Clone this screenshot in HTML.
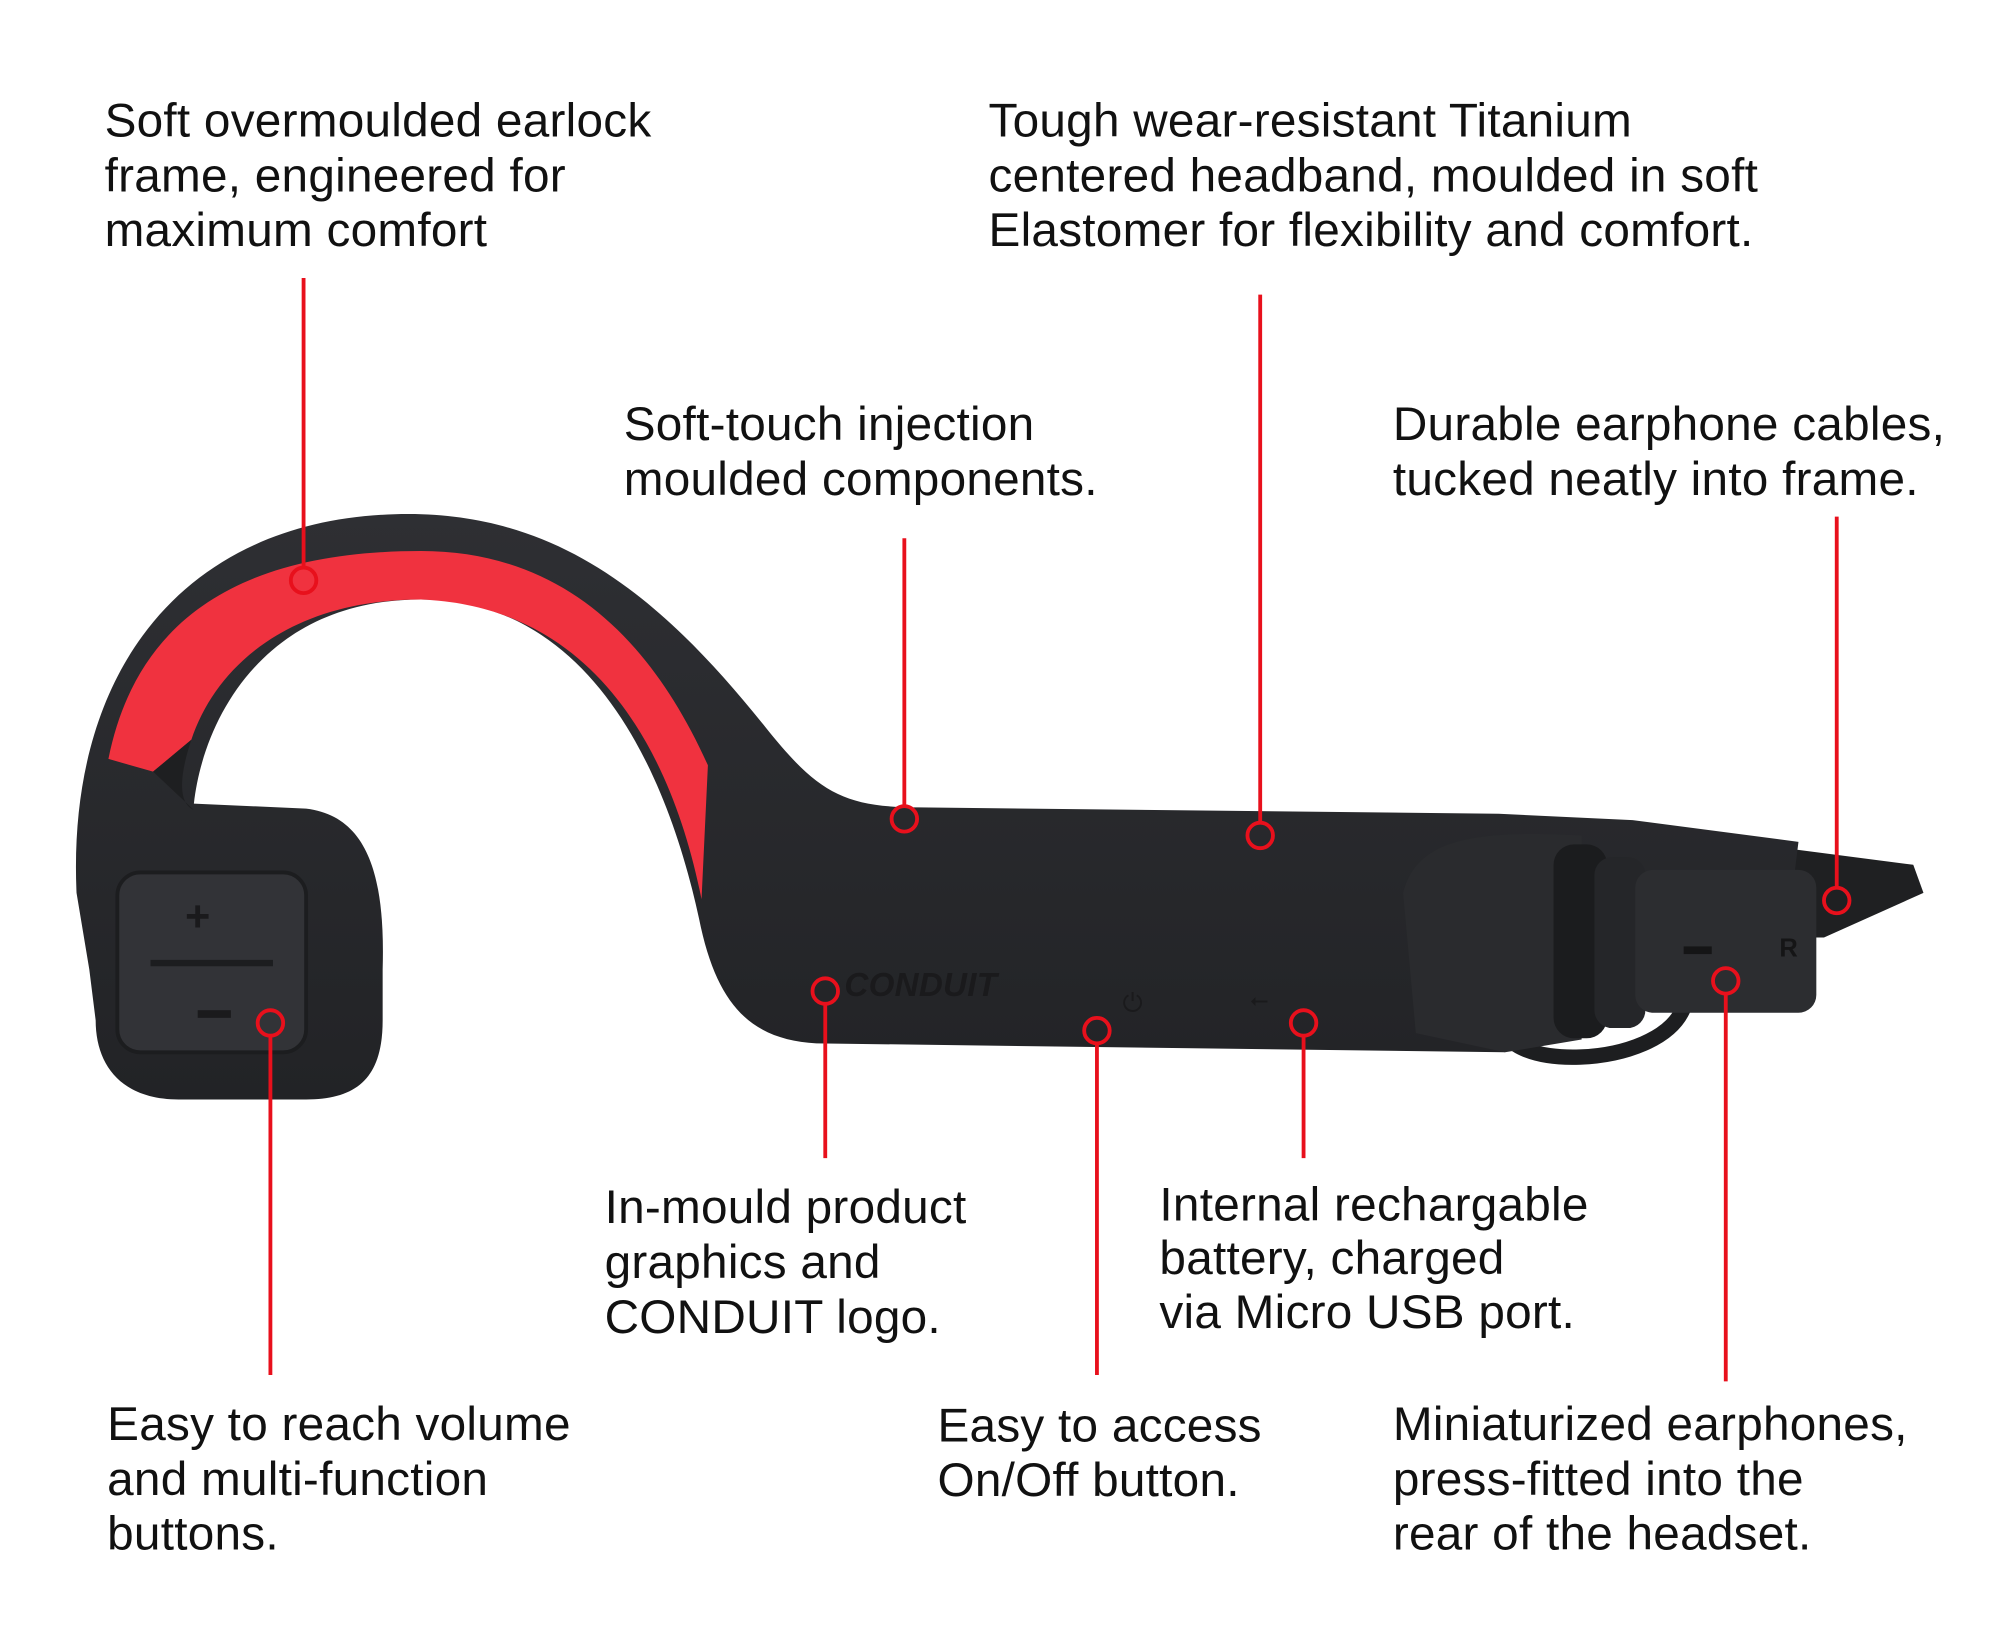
<!DOCTYPE html>
<html><head><meta charset="utf-8"><style>
html,body{margin:0;padding:0;background:#fff;}
svg{display:block}
text{font-family:"Liberation Sans",Arial,sans-serif;font-size:37.4px;letter-spacing:0.2px;fill:#111;}
</style></head><body>
<svg width="2000" height="1644" viewBox="0 0 1568 1288.9" xmlns="http://www.w3.org/2000/svg">
<defs>
<linearGradient id="g" x1="0" y1="0" x2="0" y2="1"><stop offset="0" stop-color="#2e2f33"/><stop offset="1" stop-color="#222326"/></linearGradient>
</defs>
<path d="M1180 800 C1170 840, 1300 840, 1320 790" fill="none" stroke="#1d1e20" stroke-width="12"/>
<path d="M1400 665 L1500 678 L1508 700 L1430 735 L1400 735 Z" fill="#1f2022"/>
<path d="M60 700 C52 520,150 403,320 403 C440 403,520 470,600 570 C640 620,660 633,720 633 L1175 638 L1280 643 L1410 660 L1400 740 L1180 760 L1180 825 L640 818 C590 815,562 790,548 720 C522 600,460 470,330 470 C210 470,160 560,152 630 L240 634 C290 640,302 690,300 760 L300 800 C300 845,280 862,240 862 L140 862 C95 862,75 835,75 800 L70 760 Z" fill="url(#g)"/>
<path d="M85 595 C110 470,210 432,330 432 C440 432,510 500,555 600 L550 705 C525 580,460 475,330 470 C230 470,170 520,150 580 L120 605 Z" fill="#f0323f"/>
<path d="M120 605 L150 580 C140 610,140 630,152 635 Z" fill="#1e1f21"/>
<rect x="92" y="684" width="148" height="141" rx="18" fill="#323337" stroke="#1c1d1f" stroke-width="3"/>
<line x1="118" y1="755" x2="214" y2="755" stroke="#1c1d1f" stroke-width="5"/>
<text x="145" y="730" style="font-size:34px;fill:#1a1a1c;font-weight:bold">+</text>
<rect x="155" y="792" width="26" height="6" fill="#1a1a1c"/>
<path d="M1100 700 C1110 660,1150 650,1240 655 L1240 815 L1180 825 L1110 810 Z" fill="#2a2b2e"/>
<rect x="1218" y="662" width="42" height="152" rx="16" fill="#1b1c1e"/>
<rect x="1250" y="672" width="40" height="134" rx="14" fill="#252629"/>
<rect x="1282" y="682" width="142" height="112" rx="14" fill="#2c2d30"/>
<rect x="1320" y="742" width="22" height="6" fill="#151516"/>
<text x="1395" y="750" style="font-size:20px;fill:#151516;font-weight:bold">R</text>
<text x="662" y="781" style="font-size:26px;fill:#1a1a1c;font-weight:bold;font-style:italic">CONDUIT</text>
<text x="880" y="793" style="font-size:20px;fill:#1a1a1c">⏻</text>
<text x="980" y="790" style="font-size:18px;fill:#1a1a1c">⭠</text>
<g stroke="#e8101c" stroke-width="3" fill="none">
<line x1="238" y1="218" x2="238" y2="444"/><circle cx="238" cy="455" r="10"/>
<line x1="709" y1="422" x2="709" y2="631"/><circle cx="709" cy="642" r="10"/>
<line x1="988" y1="231" x2="988" y2="644"/><circle cx="988" cy="655" r="10"/>
<line x1="1440" y1="405" x2="1440" y2="695"/><circle cx="1440" cy="706" r="10"/>
<circle cx="212" cy="802" r="10"/><line x1="212" y1="813" x2="212" y2="1078"/>
<circle cx="647" cy="777" r="10"/><line x1="647" y1="788" x2="647" y2="908"/>
<circle cx="860" cy="808" r="10"/><line x1="860" y1="819" x2="860" y2="1078"/>
<circle cx="1022" cy="802" r="10"/><line x1="1022" y1="813" x2="1022" y2="908"/>
<circle cx="1353" cy="769" r="10"/><line x1="1353" y1="780" x2="1353" y2="1083"/>
</g>
<text x="82" y="107">Soft overmoulded earlock</text>
<text x="82" y="150">frame, engineered for</text>
<text x="82" y="193">maximum comfort</text>
<text x="775" y="107">Tough wear-resistant Titanium</text>
<text x="775" y="150">centered headband, moulded in soft</text>
<text x="775" y="193">Elastomer for flexibility and comfort.</text>
<text x="489" y="345">Soft-touch injection</text>
<text x="489" y="388">moulded components.</text>
<text x="1092" y="345">Durable earphone cables,</text>
<text x="1092" y="388">tucked neatly into frame.</text>
<text x="474" y="959">In-mould product</text>
<text x="474" y="1002">graphics and</text>
<text x="474" y="1045">CONDUIT logo.</text>
<text x="909" y="957">Internal rechargable</text>
<text x="909" y="999">battery, charged</text>
<text x="909" y="1041">via Micro USB port.</text>
<text x="84" y="1129">Easy to reach volume</text>
<text x="84" y="1172">and multi-function</text>
<text x="84" y="1215">buttons.</text>
<text x="735" y="1130">Easy to access</text>
<text x="735" y="1173">On/Off button.</text>
<text x="1092" y="1129">Miniaturized earphones,</text>
<text x="1092" y="1172">press-fitted into the</text>
<text x="1092" y="1215">rear of the headset.</text>
</svg>
</body></html>
